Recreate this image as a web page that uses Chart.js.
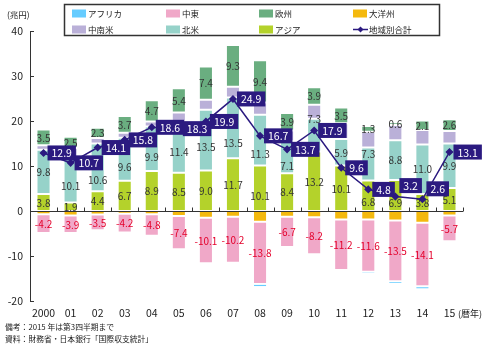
<!DOCTYPE html>
<html><head><meta charset="utf-8">
<script src="https://cdn.jsdelivr.net/npm/chart.js@4"></script>
<style>
html,body{margin:0;padding:0;background:#fff;}
#wrap{position:relative;width:494px;height:355px;overflow:hidden;}
canvas{position:absolute;left:0;top:0;}
.t{position:absolute;font-family:"Noto Sans CJK JP","Noto Sans",sans-serif;color:#222;white-space:nowrap;line-height:1;}
</style></head><body>
<div id="wrap"><canvas id="c" width="494" height="355"></canvas>
<div class="t" style="left:7px;top:10px;font-size:8.5px">(兆円)</div>
<div class="t" style="left:458px;top:309px;font-size:9px">(暦年)</div>
<div class="t" style="left:5px;top:323px;font-size:7.8px">備考：2015 年は第3四半期まで</div>
<div class="t" style="left:5px;top:335px;font-size:7.8px">資料：財務省・日本銀行「国際収支統計」</div>
</div>
<script>
const categories = ['2000','01','02','03','04','05','06','07','08','09','10','11','12','13','14','15'];
const asia         = [3.8,1.9,4.4,6.7,8.9,8.5,9.0,11.7,10.1,8.4,13.2,10.1,6.8,6.9,3.8,5.1];
const northAmerica = [9.8,10.1,10.6,9.6,9.9,11.4,13.5,13.5,11.3,7.1,7.3,5.9,7.3,8.8,11.0,9.9];
const latinAmerica = [1.0,2.0,1.2,1.1,1.1,2.0,2.2,2.4,2.7,2.4,3.1,3.5,3.5,3.4,3.2,2.8];
const europe       = [3.5,2.5,2.3,3.7,4.7,5.4,7.4,9.3,9.4,3.9,3.9,3.5,1.3,0.6,2.1,2.6];
const oceania      = [-0.7,-1.0,-0.8,-0.6,-0.7,-1.1,-1.5,-1.3,-2.4,-1.3,-1.4,-1.9,-1.9,-2.1,-2.6,-1.0];
const middleEast   = [-4.2,-3.9,-3.5,-4.2,-4.8,-7.4,-10.1,-10.2,-13.8,-6.7,-8.2,-11.2,-11.6,-13.5,-14.1,-5.7];
const africa       = [-0.4,-0.4,-0.3,-0.4,-0.4,-0.4,-0.4,-0.4,-0.7,-0.2,-0.2,-0.4,-0.5,-0.6,-0.7,-0.4];
const total        = [12.9,10.7,14.1,15.8,18.6,18.3,19.9,24.9,16.7,13.7,17.9,9.6,4.8,3.2,2.6,13.1];
const yMin = -20, yMax = 40, yStep = 10;

const FONT = '"Noto Sans CJK JP","Noto Sans",sans-serif';
const C = {africa:'#66CCFF', me:'#F0A8C8', eu:'#6AAE80', oc:'#F4B90E', la:'#BAB0D8', na:'#96D2C9', asia:'#B4D22B', total:'#2B1A80'};

function barDs(label, data, color){
  return {type:'bar', label, data, backgroundColor:color, borderColor:'rgba(255,255,255,0.35)',
    borderWidth:1, borderSkipped:false, stack:'bars', order:1, barPercentage:0.52, categoryPercentage:1};
}
const datasets = [
  barDs('アジア', asia, C.asia),          //0
  barDs('北米', northAmerica, C.na),      //1
  barDs('中南米', latinAmerica, C.la),    //2
  barDs('欧州', europe, C.eu),            //3
  barDs('大洋州', oceania, C.oc),         //4
  barDs('中東', middleEast, C.me),        //5
  barDs('アフリカ', africa, C.africa),    //6
  {type:'line', label:'地域別合計', data:total, borderColor:C.total, borderWidth:1.5,
   pointStyle:'rectRot', pointRadius:3, pointBackgroundColor:C.total, pointBorderColor:C.total,
   stack:'total', order:0, tension:0}
];
const LINE = 7;
const labelled = {0:'#333', 1:'#333', 3:'#333', 5:'#E4002B'};
const labelShift = {0:{8:7,12:6,13:7}, 1:{1:6,2:12,3:7.5,4:8.5,5:4.5,6:7,7:15,8:14,9:8,10:-16,12:-10}};
const boxShift = {13:-11, 14:-10.5};
const legendOrder = [6,5,3,4,2,1,0,7];

const plugin = {
  id:'custom',
  beforeDatasetDraw(chart, args){
    if(args.index !== LINE) return;
    const ctx = chart.ctx;
    ctx.save();
    ctx.font = '10px ' + FONT;
    ctx.textAlign = 'center'; ctx.textBaseline = 'middle';
    Object.keys(labelled).forEach(k => {
      const di = +k; const meta = chart.getDatasetMeta(di);
      ctx.fillStyle = labelled[k];
      meta.data.forEach((el, i) => {
        const v = chart.data.datasets[di].data[i];
        const sh = (labelShift[di] && labelShift[di][i]) || 0;
        ctx.fillText(v.toFixed(1), el.x, (el.y + el.base)/2 + sh + 0.5);
      });
    });
    ctx.restore();
  },
  afterDatasetsDraw(chart){
    const ctx = chart.ctx, ys = chart.scales.y, ca = chart.chartArea;
    ctx.save();
    const y0 = Math.round(ys.getPixelForValue(0)) + 0.5;
    ctx.strokeStyle = '#333'; ctx.lineWidth = 1;
    ctx.beginPath(); ctx.moveTo(ca.left, y0); ctx.lineTo(ca.right, y0);
    const step = (ca.right - ca.left) / categories.length;
    for(let k=1;k<=categories.length;k++){
      const x = Math.round(ca.left + k*step) + 0.5;
      ctx.moveTo(x, y0); ctx.lineTo(x, y0-4);
    }
    for(let v=yMin; v<=yMax; v+=yStep){
      const y = Math.round(ys.getPixelForValue(v)) + 0.5;
      ctx.moveTo(ca.left, y); ctx.lineTo(ca.left+4, y);
    }
    ctx.stroke();
    const meta = chart.getDatasetMeta(LINE);
    ctx.font = '10.5px ' + FONT; ctx.textBaseline = 'middle'; ctx.textAlign = 'left';
    meta.data.forEach((p, i) => {
      const txt = total[i].toFixed(1);
      const w = ctx.measureText(txt).width + 8, h = 15;
      const cy = p.y + (boxShift[i] || 0);
      const left = p.x + 4;
      ctx.fillStyle = C.total;
      ctx.fillRect(left, cy - h/2, w, h);
      ctx.fillStyle = '#fff';
      ctx.fillText(txt, left + 4, cy + 0.5);
    });
    ctx.strokeStyle = '#333'; ctx.lineWidth = 1.5;
    ctx.strokeRect(64.5, 4.5, 375, 31);
    const cols = [72, 166, 259, 353], rows = [13.5, 29.5];
    ctx.font = '8.5px ' + FONT; ctx.textAlign = 'left'; ctx.textBaseline = 'middle';
    legendOrder.forEach((di, n) => {
      const x = cols[n % 4], y = rows[Math.floor(n / 4)];
      const ds = chart.data.datasets[di];
      if(di === LINE){
        ctx.strokeStyle = C.total; ctx.lineWidth = 1.5;
        ctx.beginPath(); ctx.moveTo(x, y); ctx.lineTo(x+15, y); ctx.stroke();
        ctx.fillStyle = C.total;
        ctx.beginPath(); ctx.moveTo(x+7.5, y-3); ctx.lineTo(x+10.5, y); ctx.lineTo(x+7.5, y+3); ctx.lineTo(x+4.5, y); ctx.closePath(); ctx.fill();
      } else {
        ctx.fillStyle = ds.backgroundColor;
        ctx.fillRect(x, y-4, 14, 8);
      }
      ctx.fillStyle = '#222';
      ctx.fillText(ds.label, x + 16, y + 0.5);
    });
    ctx.restore();
  }
};

new Chart(document.getElementById('c'), {
  type:'bar',
  data:{labels:categories, datasets},
  options:{
    responsive:false, animation:false, devicePixelRatio:1,
    layout:{padding:{top:31, right:31, left:0, bottom:32}},
    plugins:{legend:{display:false}, tooltip:{enabled:false}},
    scales:{
      x:{stacked:true, offset:true, grid:{display:false, drawTicks:false}, border:{display:false},
         ticks:{padding:6, color:'#222', font:{family:FONT, size:10.5}, maxRotation:0, autoSkip:false},
         afterFit(s){ s.height = 22; }},
      y:{stacked:true, min:yMin, max:yMax,
         ticks:{stepSize:yStep, padding:7, color:'#222', font:{family:FONT, size:10.5}},
         grid:{display:false, drawTicks:false}, border:{display:true, color:'#333', width:1},
         afterFit(s){ s.width = 30; }}
    }
  },
  plugins:[plugin]
});
</script>
</body></html>
